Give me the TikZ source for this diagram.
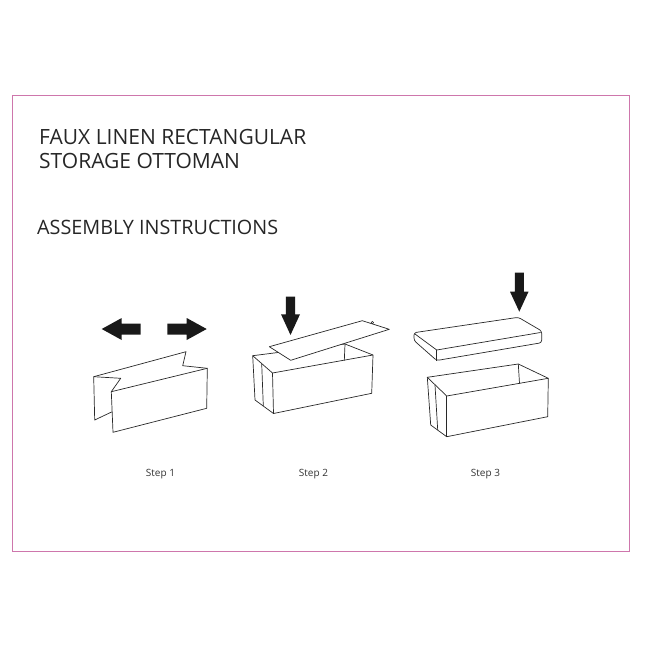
\documentclass[tikz,border=0pt]{standalone}
\usepackage{fontspec}
\setmainfont{Open Sans}
\definecolor{framepink}{RGB}{206,118,172}
\definecolor{inkgray}{RGB}{40,40,40}
\tikzset{
    outline/.style={draw=inkgray, line width=0.7pt, line join=round},
    fatarrow/.style={fill=black!90},
    headline/.style={anchor=base west, inner sep=0pt, text=black!85, font=\fontsize{21}{24}\selectfont},
    steplabel/.style={anchor=base, inner sep=0pt, text=black!80, font=\fontsize{10}{12}\selectfont}
}
\begin{document}
\begin{tikzpicture}[x=1pt,y=-1pt]
            \useasboundingbox (0,0) rectangle (650,650);
            \draw[framepink, line width=1pt] (12,96) rectangle (629.7,551);
            \node[headline] (title1) at (39,144) {FAUX LINEN RECTANGULAR};
            \node[headline] (title2) at (39,168) {STORAGE OTTOMAN};
            \node[headline, font=\fontsize{19.8}{24}\selectfont] (subtitle) at (37,234) {ASSEMBLY INSTRUCTIONS};
            \foreach \n/\x in {1/160.5, 2/313.5, 3/485.5} {
                \node[steplabel] (step\n) at (\x,476.5) {Step \n};
            }
            % step 1: arrows and unfolded sides
            \fill[fatarrow] (101.7,329) -- (121.7,318) -- (121.7,323.5) -- (140.7,323.5)
                -- (140.7,334.5) -- (121.7,334.5) -- (121.7,340) -- cycle;
            \fill[fatarrow] (206.7,329) -- (186.7,318) -- (186.7,323.5) -- (167.3,323.5)
                -- (167.3,334.5) -- (186.7,334.5) -- (186.7,340) -- cycle;
            \draw[outline] (93.7,376.7) -- (186,351.7) -- (182.7,365.7) -- (207.3,368.3);
            \draw[outline] (93.7,376.7) -- (120.7,378.3) -- (111.3,391.7);
            \draw[outline] (93.7,376.7) -- (94.7,420) -- (112.2,411.7);
            \draw[outline] (111.3,391.7) -- (207.3,368.3) -- (206.7,408.3) -- (113,432.3) -- cycle;
            % step 2: box with bottom board
            \fill[fatarrow] (290.5,335) -- (281,314.3) -- (285.8,314.3) -- (285.8,296.7)
                -- (295.2,296.7) -- (295.2,314.3) -- (300,314.3) -- cycle;
            \draw[outline] (252.7,355.7) -- (345,344) -- (373,355) -- (371.7,393.3)
                -- (273.5,413.5) -- (255,400) -- cycle;
            \draw[outline] (252.7,355.7) -- (272.5,373) -- (373,355);
            \draw[outline] (272.5,373) -- (273.5,413.5);
            \draw[outline] (261.7,363.6) -- (263.3,406);
            \draw[outline] (345,344) -- (344.3,360.7);
            \draw[outline, fill=white] (269.3,346.7) -- (362.3,320.7) -- (389.3,329.3)
                -- (290.7,360.3) -- cycle;
            \draw[outline, line width=0.5pt] (372.4,322.6) circle (1.3);
            % step 3: box with cushion lid
            \fill[fatarrow] (519.3,311.7) -- (510,291.7) -- (514.8,291.7) -- (514.8,272.7)
                -- (523.8,272.7) -- (523.8,291.7) -- (528.5,291.7) -- cycle;
            \draw[outline, rounded corners=2.5pt] (414,332.7) -- (518.3,317.3) -- (541.7,331)
                -- (541.7,342.7) -- (436.7,360.5) -- (414,340.5) -- cycle;
            \draw[outline] (415,334) -- (436.7,350) -- (540.5,332.5);
            \draw[outline] (436.7,350) -- (436.7,360.5);
            \draw[outline] (427.3,377.3) -- (518.3,364) -- (548.3,378.3) -- (547.7,416.7)
                -- (446.7,436.7) -- (430.7,425) -- cycle;
            \draw[outline] (427.3,377.3) -- (446.7,396) -- (548.3,378.3);
            \draw[outline] (446.7,396) -- (446.7,436.7);
            \draw[outline] (435,385) -- (437.7,430);
            \draw[outline] (518.3,364) -- (519.5,383.5);
\end{tikzpicture}
\end{document}
